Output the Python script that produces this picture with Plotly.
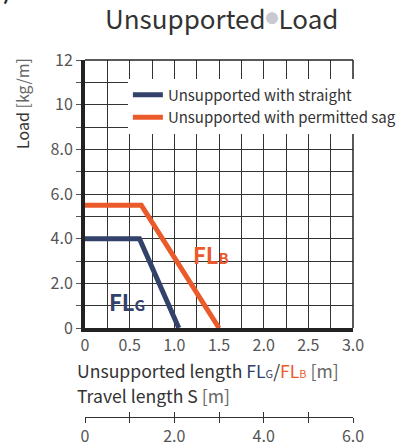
import plotly.graph_objects as go

# ---- data ----
straight_x = [0, 0.61, 1.05]
straight_y = [4.0, 4.0, 0]
sag_x = [0, 0.63, 1.5]
sag_y = [5.5, 5.5, 0]

x_tickvals = [0, 0.25, 0.5, 0.75, 1.0, 1.25, 1.5, 1.75, 2.0, 2.25, 2.5, 2.75, 3.0]
x_ticktext = ["0", "", "0.5", "", "1.0", "", "1.5", "", "2.0", "", "2.5", "", "3.0"]
y_tickvals = list(range(0, 13))
y_ticktext = ["0", "", "2.0", "", "4.0", "", "6.0", "", "8.0", "", "10", "", "12"]
s_range = [0, 6]
s_tickvals = [0, 1, 2, 3, 4, 5, 6]
s_ticktext = ["0", "", "2.0", "", "4.0", "", "6.0"]

NAVY = "#33426b"
ORANGE = "#ea5a2b"
FONT = "Noto Sans CJK JP"
GRID = "#333333"

fig = go.Figure()
fig.add_trace(go.Scatter(x=straight_x, y=straight_y, mode="lines",
                         line=dict(color=NAVY, width=5),
                         name="Unsupported with straight"))
fig.add_trace(go.Scatter(x=sag_x, y=sag_y, mode="lines",
                         line=dict(color=ORANGE, width=5),
                         name="Unsupported with permitted sag"))
# placeholder traces so the travel-length axes get drawn
fig.add_trace(go.Scatter(x=[None], y=[None], xaxis="x2", yaxis="y", showlegend=False,
                         hoverinfo="skip"))
fig.add_trace(go.Scatter(x=[None], y=[None], xaxis="x3", yaxis="y", showlegend=False,
                         hoverinfo="skip"))

fig.update_layout(
    width=401, height=447,
    margin=dict(l=85, r=48, t=60, b=30, autoexpand=False),
    paper_bgcolor="white", plot_bgcolor="white",
    font=dict(family=FONT, color="#555", size=15),
    showlegend=True,
    legend=dict(x=0.16, y=0.948, xanchor="left", yanchor="top",
                bgcolor="white", font=dict(size=15, color="#333"),
                tracegroupgap=0, itemwidth=30),
    xaxis=dict(domain=[0, 1], range=[0, 3], tickvals=x_tickvals, ticktext=x_ticktext,
               showgrid=True, gridcolor=GRID, gridwidth=1, zeroline=False,
               showline=True, linecolor="#222", linewidth=4, ticks="",
               tickfont=dict(size=16, color="#555"), anchor="y", automargin=False),
    yaxis=dict(domain=[0.2493, 1], range=[0, 12], tickvals=y_tickvals, ticktext=y_ticktext,
               showgrid=True, gridcolor=GRID, gridwidth=1, zeroline=False,
               showline=True, linecolor="#222", linewidth=4,
               ticks="outside", ticklen=5, tickcolor="#555",
               tickfont=dict(size=16, color="#555"), anchor="x", automargin=False),
    xaxis2=dict(overlaying="x", anchor="free", position=0, side="bottom",
                range=s_range, tickvals=s_tickvals, ticktext=s_ticktext,
                showgrid=False, zeroline=False, showline=True, linecolor="#333",
                linewidth=1, ticks="outside", ticklen=5, tickcolor="#333",
                automargin=False, tickfont=dict(size=16, color="#555")),
    xaxis3=dict(overlaying="x", anchor="free", position=0, side="bottom",
                range=s_range, tickvals=s_tickvals, showticklabels=False,
                showgrid=False, zeroline=False, showline=False,
                ticks="inside", ticklen=5, tickcolor="#333", automargin=False),
)

# top and right thin borders
fig.add_shape(type="line", xref="x domain", yref="y domain", x0=0, x1=1, y0=1, y1=1,
              line=dict(color="#222", width=1.5))
fig.add_shape(type="line", xref="x domain", yref="y domain", x0=1, x1=1, y0=0, y1=1,
              line=dict(color="#222", width=1.5))

anns = [
    dict(text="Unsupported<span style='color:#c9c9d1;font-size:13px;baseline-shift:6px'>●</span>Load",
         xref="paper", yref="paper",
         x=0.51, y=1.12, xanchor="center", yanchor="middle", showarrow=False,
         font=dict(size=26, color="#333")),
    dict(text="Load <span style='color:#666'>[kg/m]</span>", xref="paper", yref="paper",
         x=-0.235, y=0.877, textangle=-90, xanchor="center", yanchor="middle",
         showarrow=False, font=dict(size=16, color="#333")),
    dict(text="Unsupported length <span style='color:%s'>FL<span style='font-size:11px'>G</span></span>/"
              "<span style='color:%s'>FL<span style='font-size:11px'>B</span></span> "
              "<span style='color:#666'>[m]</span>" % (NAVY, ORANGE),
         xref="paper", yref="paper", x=-0.038, y=0.131, xanchor="left", yanchor="middle",
         showarrow=False, font=dict(size=17.6, color="#333")),
    dict(text="Travel length S <span style='color:#666'>[m]</span>",
         xref="paper", yref="paper", x=-0.038, y=0.061, xanchor="left", yanchor="middle",
         showarrow=False, font=dict(size=17.6, color="#333")),
    dict(text="<b>FL<span style='font-size:15px'>B</span></b>", xref="x", yref="y",
         x=1.41, y=3.3, xanchor="center", yanchor="middle", showarrow=False,
         font=dict(size=22, color=ORANGE)),
    dict(text="<b>FL<span style='font-size:15px'>G</span></b>", xref="x", yref="y",
         x=0.47, y=1.2, xanchor="center", yanchor="middle", showarrow=False,
         font=dict(size=22, color=NAVY)),
    dict(text="<b>4)</b>", xref="paper", yref="paper", x=-0.272, y=1.1457,
         xanchor="right", yanchor="bottom", showarrow=False,
         font=dict(size=20, color="#222")),
]
fig.update_layout(annotations=anns)

fig.write_html("out.html", config={"displayModeBar": False},
               post_script="document.body.style.margin='0';document.documentElement.style.overflow='hidden';")
